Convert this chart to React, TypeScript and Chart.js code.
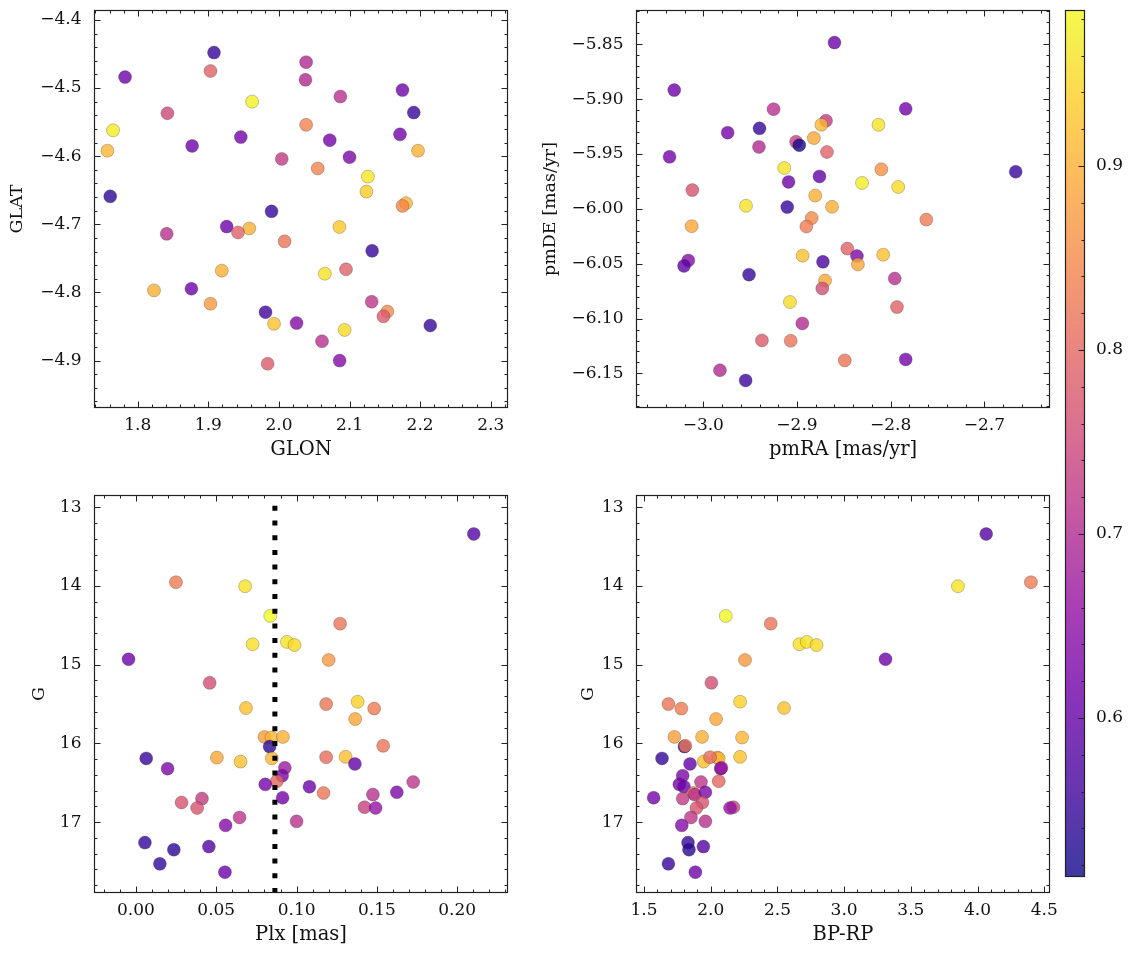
import React, { useEffect, useRef } from "react";
import { Chart, registerables } from "chart.js";
Chart.register(...registerables);

// ---------------- data ----------------
// Panel 1: sky positions
const posGlon = [1.908, 1.782, 1.903, 2.0385, 2.0376, 2.175, 1.962, 2.087, 2.191, 1.842, 1.765, 2.0385, 1.946, 2.072, 2.1715, 1.877, 1.757, 2.197, 2.100, 2.004, 2.055, 2.126, 2.124, 1.761, 2.180, 2.175, 1.9895, 1.926, 1.958, 1.942, 2.0857, 1.841, 2.008, 2.132, 1.919, 2.065, 2.095, 1.823, 1.876, 1.903, 2.1314, 1.981, 2.1536, 2.148, 1.993, 2.025, 2.2144, 2.093, 2.061, 1.984, 2.086];
const posGlat = [-4.448, -4.484, -4.475, -4.462, -4.488, -4.503, -4.520, -4.5125, -4.536, -4.537, -4.562, -4.554, -4.572, -4.5765, -4.568, -4.585, -4.592, -4.592, -4.6015, -4.604, -4.618, -4.630, -4.652, -4.659, -4.669, -4.673, -4.681, -4.7034, -4.706, -4.712, -4.704, -4.714, -4.725, -4.739, -4.768, -4.7725, -4.766, -4.797, -4.7946, -4.8166, -4.8137, -4.829, -4.828, -4.835, -4.846, -4.845, -4.8485, -4.855, -4.8716, -4.9047, -4.900];
const posProb = [0.55, 0.61, 0.79, 0.70, 0.70, 0.61, 0.975, 0.71, 0.55, 0.75, 0.97, 0.84, 0.62, 0.62, 0.62, 0.61, 0.91, 0.90, 0.63, 0.73, 0.84, 0.965, 0.935, 0.54, 0.91, 0.845, 0.55, 0.61, 0.90, 0.79, 0.93, 0.71, 0.82, 0.55, 0.90, 0.96, 0.79, 0.90, 0.61, 0.87, 0.72, 0.56, 0.85, 0.78, 0.92, 0.64, 0.55, 0.95, 0.71, 0.78, 0.64];

// Panel 2: proper motions
const pmRa = [-2.860, -3.031, -2.925, -2.784, -2.869, -2.874, -2.813, -2.940, -2.974, -2.882, -2.901, -2.8976, -2.9406, -2.868, -3.036, -2.9136, -2.810, -2.6666, -2.876, -2.909, -2.8306, -2.792, -3.0117, -2.8805, -2.9544, -2.8626, -2.9104, -2.762, -2.8843, -2.890, -3.0124, -2.8463, -2.894, -2.808, -2.836, -2.835, -2.8723, -3.016, -3.0206, -2.9512, -2.7957, -2.870, -2.873, -2.7933, -2.9075, -2.8943, -2.9374, -2.9067, -2.849, -2.784, -2.9822, -2.9548];
const pmDe = [-5.8485, -5.8918, -5.9092, -5.9089, -5.9197, -5.9234, -5.9234, -5.9266, -5.9306, -5.9355, -5.9389, -5.942, -5.9436, -5.9482, -5.9526, -5.9628, -5.964, -5.9662, -5.9705, -5.9755, -5.9764, -5.9801, -5.9829, -5.9879, -5.9972, -5.9981, -5.9984, -6.0098, -6.0084, -6.0161, -6.0158, -6.0362, -6.0427, -6.0418, -6.043, -6.0507, -6.0483, -6.047, -6.052, -6.06, -6.0635, -6.0653, -6.0725, -6.0895, -6.0849, -6.1044, -6.1199, -6.1202, -6.1381, -6.1372, -6.1471, -6.1564];
const pmProb = [0.61, 0.61, 0.71, 0.62, 0.73, 0.91, 0.96, 0.55, 0.62, 0.89, 0.74, 0.52, 0.70, 0.79, 0.62, 0.96, 0.86, 0.55, 0.60, 0.61, 0.97, 0.95, 0.77, 0.90, 0.96, 0.90, 0.55, 0.83, 0.85, 0.83, 0.89, 0.79, 0.92, 0.92, 0.63, 0.89, 0.57, 0.64, 0.59, 0.55, 0.71, 0.89, 0.76, 0.79, 0.95, 0.70, 0.78, 0.82, 0.82, 0.62, 0.70, 0.56];

// Panels 3 & 4: photometry / parallax (same stars)
const cmdG = [13.339, 13.952, 14.003, 14.38, 14.478, 14.74, 14.71, 14.75, 14.93, 14.94, 15.23, 15.55, 15.50, 15.47, 15.557, 15.69, 15.917, 15.925, 15.917, 16.04, 16.03, 16.19, 16.18, 16.23, 16.19, 16.175, 16.17, 16.26, 16.32, 16.31, 16.41, 16.48, 16.52, 16.55, 16.49, 16.69, 16.63, 16.65, 16.62, 16.70, 16.75, 16.82, 16.81, 16.82, 16.94, 17.04, 16.99, 17.26, 17.35, 17.31, 17.53, 17.635];
const cmdPlx = [0.2103, 0.0249, 0.068, 0.0836, 0.1271, 0.0726, 0.094, 0.0987, -0.0046, 0.120, 0.0459, 0.0685, 0.1184, 0.138, 0.1483, 0.1365, 0.080, 0.0844, 0.0915, 0.0832, 0.1539, 0.0064, 0.0504, 0.0651, 0.0846, 0.1184, 0.1305, 0.1363, 0.0197, 0.0927, 0.091, 0.0877, 0.0805, 0.108, 0.1726, 0.0913, 0.1168, 0.1475, 0.1624, 0.0411, 0.0284, 0.0381, 0.1423, 0.1492, 0.0645, 0.0558, 0.100, 0.0056, 0.0236, 0.0454, 0.0149, 0.0554];
const cmdBpRp = [4.065, 4.40, 3.853, 2.1125, 2.45, 2.665, 2.72, 2.793, 3.31, 2.257, 2.005, 2.55, 1.683, 2.22, 1.78, 2.04, 1.728, 2.235, 1.935, 1.803, 1.81, 1.635, 2.05, 1.9475, 2.06, 1.995, 2.22, 1.845, 2.075, 2.08, 1.79, 2.06, 1.765, 1.80, 1.927, 1.572, 1.87, 1.88, 1.96, 1.79, 1.938, 1.893, 2.17, 2.145, 1.852, 1.783, 1.96, 1.83, 1.837, 1.945, 1.683, 1.885];
const cmdProb = [0.58, 0.83, 0.96, 0.985, 0.82, 0.955, 0.96, 0.95, 0.61, 0.87, 0.76, 0.92, 0.82, 0.94, 0.83, 0.89, 0.88, 0.91, 0.90, 0.54, 0.82, 0.55, 0.89, 0.92, 0.91, 0.81, 0.92, 0.60, 0.63, 0.67, 0.63, 0.80, 0.62, 0.61, 0.72, 0.62, 0.82, 0.71, 0.63, 0.73, 0.77, 0.77, 0.74, 0.66, 0.72, 0.64, 0.71, 0.55, 0.54, 0.58, 0.55, 0.61];

const plxReference = 0.0865;

// colour scale range
const probMin = 0.5136;
const probMax = 0.9848;
const colorbarTicks = [0.6, 0.7, 0.8, 0.9];

// ---------------- styling helpers ----------------
const FONT = "'DejaVu Serif', serif";
const TICK_FONT = { family: FONT, size: 17 };
const XTITLE_FONT = { family: FONT, size: 19.5 };
const YTITLE_FONT = { family: FONT, size: 17.5 };
const INK = "#111";

const PLASMA: number[][] = [
  [13, 8, 135], [65, 4, 157], [106, 0, 168], [143, 13, 164], [177, 42, 144],
  [204, 71, 120], [225, 100, 98], [242, 132, 75], [252, 166, 54], [252, 206, 37], [240, 249, 33],
];
function plasma(t: number, alpha: number): string {
  const tt = Math.min(1, Math.max(0, t));
  const s = tt * (PLASMA.length - 1);
  const i = Math.min(PLASMA.length - 2, Math.floor(s));
  const f = s - i;
  const c = [0, 1, 2].map((k) => Math.round(PLASMA[i][k] + (PLASMA[i + 1][k] - PLASMA[i][k]) * f));
  return `rgba(${c[0]},${c[1]},${c[2]},${alpha})`;
}
const colorOf = (p: number) => plasma((p - probMin) / (probMax - probMin), 0.8);

function fmt(v: number, d: number) {
  const val = Math.abs(v) < 1e-9 ? 0 : v;
  return val.toFixed(d).replace("-", "\u2212");
}

function drawAxisTicks(ctx: CanvasRenderingContext2D, scale: any, minor: number, major: number, horizontal: boolean, a: any, sides: string[]) {
  const lo = Math.min(scale.min, scale.max);
  const hi = Math.max(scale.min, scale.max);
  const start = Math.ceil(lo / minor - 1e-9);
  const end = Math.floor(hi / minor + 1e-9);
  ctx.beginPath();
  for (let k = start; k <= end; k++) {
    const v = k * minor;
    const r = v / major;
    const isMajor = Math.abs(r - Math.round(r)) < 1e-6;
    const len = isMajor ? 6.5 : 3.5;
    const p = Math.round(scale.getPixelForValue(v)) + 0.5;
    if (horizontal) {
      if (sides.includes("bottom")) { ctx.moveTo(p, a.bottom); ctx.lineTo(p, a.bottom - len); }
      if (sides.includes("top")) { ctx.moveTo(p, a.top); ctx.lineTo(p, a.top + len); }
    } else {
      if (sides.includes("left")) { ctx.moveTo(a.left, p); ctx.lineTo(a.left + len, p); }
      if (sides.includes("right")) { ctx.moveTo(a.right, p); ctx.lineTo(a.right - len, p); }
    }
  }
  ctx.stroke();
}

const frameTicks = {
  id: "frameTicks",
  afterDatasetsDraw(chart: any, _args: any, opts: any) {
    const { ctx, chartArea: a, scales } = chart;
    ctx.save();
    if (opts.vline !== undefined && opts.vline !== null) {
      const px = scales.x.getPixelForValue(opts.vline);
      ctx.save();
      ctx.beginPath();
      ctx.rect(a.left, a.top, a.right - a.left, a.bottom - a.top);
      ctx.clip();
      ctx.strokeStyle = "#000";
      ctx.lineWidth = 5;
      ctx.lineCap = "butt";
      ctx.setLineDash([5, 9.7]);
      ctx.beginPath();
      ctx.moveTo(px, a.bottom);
      ctx.lineTo(px, a.top);
      ctx.stroke();
      ctx.restore();
    }
    ctx.strokeStyle = "#222";
    ctx.lineWidth = 1;
    drawAxisTicks(ctx, scales.x, opts.xMinor, opts.xMajor, true, a, ["bottom", "top"]);
    drawAxisTicks(ctx, scales.y, opts.yMinor, opts.yMajor, false, a, ["left", "right"]);
    ctx.lineWidth = 1.2;
    ctx.strokeRect(a.left + 0.5, a.top + 0.5, a.right - a.left - 1, a.bottom - a.top - 1);
    ctx.restore();
  },
};

const colorbarPlugin = {
  id: "colorbarFill",
  beforeDatasetsDraw(chart: any) {
    const { ctx, chartArea: a, scales } = chart;
    const ys = scales.y;
    ctx.save();
    for (let y = Math.floor(a.top); y < Math.ceil(a.bottom); y++) {
      const v = ys.getValueForPixel(y + 0.5);
      ctx.fillStyle = colorOf(v);
      ctx.fillRect(a.left, y, a.right - a.left, 1);
    }
    ctx.strokeStyle = "#222";
    ctx.lineWidth = 1;
    drawAxisTicks(ctx, ys, 0.02, 0.1, false, a, ["right"]);
    ctx.lineWidth = 1.2;
    ctx.strokeRect(a.left + 0.5, a.top + 0.5, a.right - a.left - 1, a.bottom - a.top - 1);
    ctx.restore();
  },
};

interface PanelSpec {
  left: number; top: number; w: number; h: number;
  padding: { left: number; top: number; right: number; bottom: number };
  yAxisW: number; xAxisH: number;
  x: { min: number; max: number; step: number; minor: number; dec: number; title: string };
  y: { min: number; max: number; step: number; minor: number; dec: number; title: string; titlePad: number; reverse?: boolean };
  xs: number[]; ys: number[]; probs: number[];
  vline?: number;
}

function makeConfig(s: PanelSpec): any {
  return {
    type: "scatter",
    data: {
      datasets: [
        {
          data: s.xs.map((x, i) => ({ x, y: s.ys[i] })),
          pointBackgroundColor: s.probs.map(colorOf),
          pointBorderColor: "rgba(40,40,40,0.45)",
          pointBorderWidth: 0.6,
          pointRadius: 6.5,
          pointHoverRadius: 6.5,
        },
      ],
    },
    options: {
      animation: false,
      responsive: false,
      devicePixelRatio: 1,
      events: [],
      layout: { padding: s.padding },
      plugins: {
        legend: { display: false },
        tooltip: { enabled: false },
        frameTicks: { xMinor: s.x.minor, xMajor: s.x.step, yMinor: s.y.minor, yMajor: s.y.step, vline: s.vline },
      },
      scales: {
        x: {
          type: "linear",
          position: "bottom",
          min: s.x.min,
          max: s.x.max,
          grid: { display: false, drawTicks: false },
          border: { display: false },
          ticks: {
            stepSize: s.x.step,
            includeBounds: false,
            autoSkip: false,
            maxRotation: 0,
            padding: 7,
            color: INK,
            font: TICK_FONT,
            callback: (v: any) => fmt(Number(v), s.x.dec),
          },
          title: { display: true, text: s.x.title, color: INK, font: XTITLE_FONT, padding: { top: 0, bottom: 0 } },
          afterFit: (sc: any) => {
            sc.height = s.xAxisH;
            sc.paddingLeft = 0;
            sc.paddingRight = 0;
          },
        },
        y: {
          type: "linear",
          position: "left",
          min: s.y.min,
          max: s.y.max,
          reverse: !!s.y.reverse,
          grid: { display: false, drawTicks: false },
          border: { display: false },
          ticks: {
            stepSize: s.y.step,
            includeBounds: false,
            autoSkip: false,
            padding: 12.5,
            color: INK,
            font: TICK_FONT,
            callback: (v: any) => fmt(Number(v), s.y.dec),
          },
          title: { display: true, text: s.y.title, color: INK, font: YTITLE_FONT, padding: { top: s.y.titlePad, bottom: 0 } },
          afterFit: (sc: any) => {
            sc.width = s.yAxisW;
            sc.paddingTop = 0;
            sc.paddingBottom = 0;
          },
        },
      },
    },
    plugins: [frameTicks],
  };
}

const panels: PanelSpec[] = [
  {
    left: 0, top: 0, w: 520, h: 470,
    padding: { left: 0, top: 10, right: 12, bottom: 8 },
    yAxisW: 94, xAxisH: 54,
    x: { min: 1.738, max: 2.3245, step: 0.1, minor: 0.02, dec: 1, title: "GLON" },
    y: { min: -4.9696, max: -4.3855, step: 0.1, minor: 0.02, dec: 1, title: "GLAT", titlePad: 7 },
    xs: posGlon, ys: posGlat, probs: posProb,
  },
  {
    left: 530, top: 0, w: 530, h: 470,
    padding: { left: 0, top: 10, right: 10, bottom: 8 },
    yAxisW: 106, xAxisH: 54,
    x: { min: -3.0718, max: -2.63, step: 0.1, minor: 0.02, dec: 1, title: "pmRA [mas/yr]" },
    y: { min: -6.1815, max: -5.8188, step: 0.05, minor: 0.01, dec: 2, title: "pmDE [mas/yr]", titlePad: 10 },
    xs: pmRa, ys: pmDe, probs: pmProb,
  },
  {
    left: 0, top: 480, w: 520, h: 480,
    padding: { left: 0, top: 15, right: 12, bottom: 13 },
    yAxisW: 94, xAxisH: 54,
    x: { min: -0.0261, max: 0.2316, step: 0.05, minor: 0.01, dec: 2, title: "Plx [mas]" },
    y: { min: 12.844, max: 17.9, step: 1, minor: 0.2, dec: 0, title: "G", titlePad: 28.5, reverse: true },
    xs: cmdPlx, ys: cmdG, probs: cmdProb,
    vline: plxReference,
  },
  {
    left: 530, top: 480, w: 530, h: 480,
    padding: { left: 0, top: 15, right: 10, bottom: 13 },
    yAxisW: 106, xAxisH: 54,
    x: { min: 1.44, max: 4.543, step: 0.5, minor: 0.1, dec: 1, title: "BP-RP" },
    y: { min: 12.844, max: 17.9, step: 1, minor: 0.2, dec: 0, title: "G", titlePad: 47.5, reverse: true },
    xs: cmdBpRp, ys: cmdG, probs: cmdProb,
  },
];

function Panel({ spec }: { spec: PanelSpec }) {
  const ref = useRef<HTMLCanvasElement>(null);
  useEffect(() => {
    const chart = new Chart(ref.current as HTMLCanvasElement, makeConfig(spec));
    return () => chart.destroy();
  }, [spec]);
  return (
    <canvas
      ref={ref}
      width={spec.w}
      height={spec.h}
      style={{ position: "absolute", left: spec.left, top: spec.top, width: spec.w, height: spec.h }}
    />
  );
}

function Colorbar() {
  const ref = useRef<HTMLCanvasElement>(null);
  useEffect(() => {
    const chart = new Chart(ref.current as HTMLCanvasElement, {
      type: "scatter",
      data: { datasets: [{ data: [] }] },
      options: {
        animation: false,
        responsive: false,
        devicePixelRatio: 1,
        events: [],
        layout: { padding: { left: 5, top: 10, right: 0, bottom: 83 } },
        plugins: { legend: { display: false }, tooltip: { enabled: false } },
        scales: {
          x: { type: "linear", display: false, min: 0, max: 1 },
          y: {
            type: "linear",
            position: "right",
            min: probMin,
            max: probMax,
            grid: { display: false, drawTicks: false },
            border: { display: false },
            afterBuildTicks: (sc: any) => { sc.ticks = colorbarTicks.map((value) => ({ value })); },
            ticks: {
              autoSkip: false,
              padding: 11,
              color: INK,
              font: TICK_FONT,
              callback: (v: any) => fmt(Number(v), 1),
            },
            afterFit: (sc: any) => {
              sc.width = 48;
              sc.paddingTop = 0;
              sc.paddingBottom = 0;
            },
          },
        },
      } as any,
      plugins: [colorbarPlugin],
    } as any);
    return () => chart.destroy();
  }, []);
  return (
    <canvas
      ref={ref}
      width={73}
      height={960}
      style={{ position: "absolute", left: 1060, top: 0, width: 73, height: 960 }}
    />
  );
}

export default function App() {
  return (
    <div style={{ position: "absolute", left: 0, top: 0, width: 1133, height: 960, background: "#fff", overflow: "hidden" }}>
      {panels.map((p, i) => (
        <Panel key={i} spec={p} />
      ))}
      <Colorbar />
    </div>
  );
}
